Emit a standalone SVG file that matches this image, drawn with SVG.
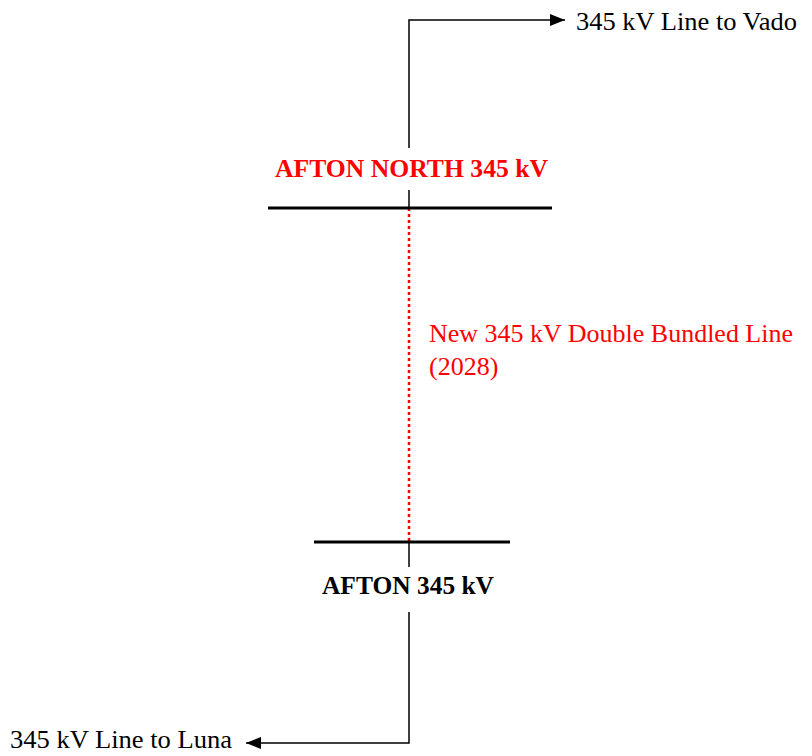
<svg xmlns="http://www.w3.org/2000/svg" width="812" height="756" viewBox="0 0 812 756">
<style>
.ln{stroke:#000;stroke-width:1.5;fill:none}
.bus{stroke:#000;stroke-width:3;fill:none}
.t{font-family:"Liberation Serif","Times New Roman",serif;font-size:26px}
.b{font-weight:bold}
</style>
<defs>
<marker id="ahb" viewBox="0 0 15 12" refX="15" refY="6" markerWidth="15" markerHeight="12" markerUnits="userSpaceOnUse" orient="auto">
<path d="M0,0 L15,6 L0,12 z" fill="#000"/>
</marker>
</defs>
<rect width="812" height="756" fill="#fff"/>
<g id="connectors">
<path class="ln" d="M409,148 V20 H565" marker-end="url(#ahb)"/>
<line class="ln" x1="409" y1="190" x2="409" y2="208"/>
<line x1="409" y1="208" x2="409" y2="542" stroke="#f00" stroke-width="2.5" stroke-dasharray="3 3"/>
<line class="ln" x1="409" y1="542" x2="409" y2="567"/>
<path class="ln" d="M409,612 V743 H246" marker-end="url(#ahb)"/>
</g>
<g id="afton-north">
<line class="bus" x1="268" y1="208" x2="552" y2="208"/>
<text class="t b" x="275" y="177" fill="#f00" textLength="273" lengthAdjust="spacingAndGlyphs">AFTON NORTH 345 kV</text>
</g>
<g id="afton">
<line class="bus" x1="314" y1="542" x2="510" y2="542"/>
<text class="t b" x="322" y="594" fill="#000" textLength="172" lengthAdjust="spacingAndGlyphs">AFTON 345 kV</text>
</g>
<g id="vado">
<text class="t" x="576" y="30" fill="#000" textLength="221" lengthAdjust="spacingAndGlyphs">345 kV Line to Vado</text>
</g>
<g id="luna">
<text class="t" x="10" y="748" fill="#000" textLength="222" lengthAdjust="spacingAndGlyphs">345 kV Line to Luna</text>
</g>
<g id="new-line-label">
<text class="t" x="429" y="342" fill="#f00" textLength="364" lengthAdjust="spacingAndGlyphs">New 345 kV Double Bundled Line</text>
<text class="t" x="429" y="375" fill="#f00">(2028)</text>
</g>
</svg>
